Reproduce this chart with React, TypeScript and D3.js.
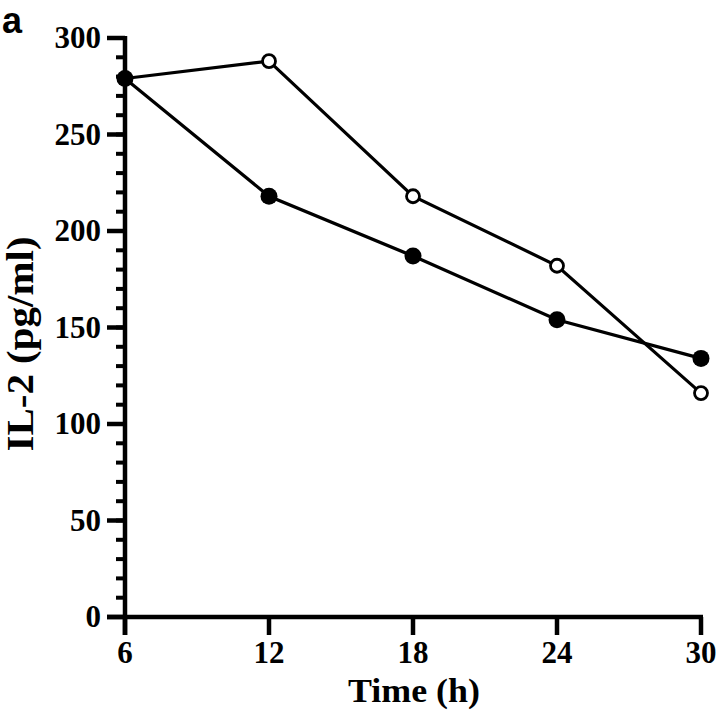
import React from "react";
import * as d3 from "d3";

const times = [6, 12, 18, 24, 30];
const filledValues = [279, 218, 187, 154, 134];
const openValues = [279, 288, 218, 182, 116];
const yMajorTicks = [0, 50, 100, 150, 200, 250, 300];
const yMinorTicks = d3.range(0, 301, 10);
const xTicks = [6, 12, 18, 24, 30];

const W = 720;
const H = 714;

export default function App() {
  const x = d3.scaleLinear().domain([6, 30]).range([125, 701]);
  const y = d3.scaleLinear().domain([0, 300]).range([617, 38]);
  const line = d3
    .line<number>()
    .x((_, i) => x(times[i]))
    .y((d) => y(d));
  const font = "'Liberation Serif', 'Times New Roman', serif";
  return (
    <svg
      width={W}
      height={H}
      style={{ position: "absolute", left: 0, top: 0, background: "#fff" }}
    >
      <text x={2} y={33} fontFamily="'Liberation Sans', Arial, sans-serif" fontWeight="bold" fontSize={36}>
        a
      </text>
      {/* y axis */}
      <line x1={x(6)} x2={x(6)} y1={y(300) - 2} y2={y(0) + 18} stroke="#000" strokeWidth={4.5} />
      {yMinorTicks.map((t) => (
        <line key={"m" + t} x1={x(6) - 9} x2={x(6)} y1={y(t)} y2={y(t)} stroke="#000" strokeWidth={4} />
      ))}
      {yMajorTicks.map((t) => (
        <g key={"M" + t}>
          <line x1={x(6) - 18} x2={x(6)} y1={y(t)} y2={y(t)} stroke="#000" strokeWidth={4.5} />
          <text
            x={x(6) - 24}
            y={y(t)}
            dy="0.33em"
            textAnchor="end"
            fontFamily={font}
            fontWeight="bold"
            fontSize={31}
          >
            {t}
          </text>
        </g>
      ))}
      {/* x axis */}
      <line x1={x(6) - 18} x2={x(30) + 2} y1={y(0)} y2={y(0)} stroke="#000" strokeWidth={4.5} />
      {xTicks.map((t) => (
        <g key={"x" + t}>
          <line x1={x(t)} x2={x(t)} y1={y(0)} y2={y(0) + 18} stroke="#000" strokeWidth={4.5} />
          <text
            x={x(t)}
            y={y(0) + 46}
            textAnchor="middle"
            fontFamily={font}
            fontWeight="bold"
            fontSize={31}
          >
            {t}
          </text>
        </g>
      ))}
      <text
        x={414}
        y={702}
        textAnchor="middle"
        fontFamily={font}
        fontWeight="bold"
        fontSize={34}
        textLength={132}
        lengthAdjust="spacingAndGlyphs"
      >
        Time (h)
      </text>
      <text
        transform={`translate(33, 344) rotate(-90)`}
        textAnchor="middle"
        fontFamily={font}
        fontWeight="bold"
        fontSize={38}
        textLength={215}
        lengthAdjust="spacingAndGlyphs"
      >
        IL-2 (pg/ml)
      </text>
      <path d={line(openValues) || ""} fill="none" stroke="#000" strokeWidth={3.2} />
      <path d={line(filledValues) || ""} fill="none" stroke="#000" strokeWidth={3.2} />
      {openValues.map((v, i) => (
        <circle key={"o" + i} cx={x(times[i])} cy={y(v)} r={6.5} fill="#fff" stroke="#000" strokeWidth={2.8} />
      ))}
      {filledValues.map((v, i) => (
        <circle key={"f" + i} cx={x(times[i])} cy={y(v)} r={8.5} fill="#000" />
      ))}
    </svg>
  );
}
